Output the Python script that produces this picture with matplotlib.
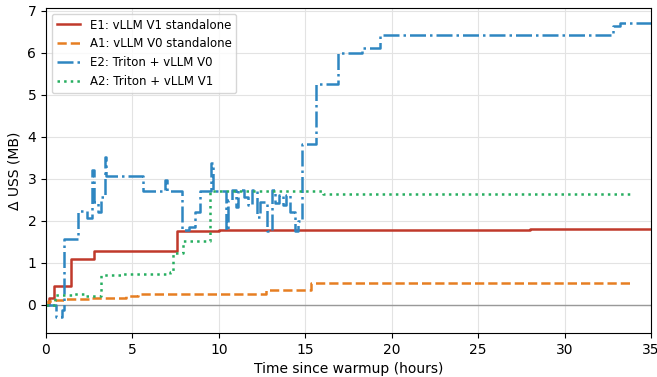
import matplotlib
matplotlib.use('Agg')
import matplotlib.pyplot as plt

# E1: vLLM V1 standalone
e1_t = [0, 0.2, 0.45, 1.45, 2.75, 7.55, 10, 15, 28, 35]
e1_v = [0, 0.17, 0.44, 1.08, 1.27, 1.76, 1.77, 1.78, 1.80, 1.80]

# A1: vLLM V0 standalone
a1_t = [0, 0.1, 0.5, 1.15, 2.5, 4.6, 5.3, 12.7, 15.3, 33.8]
a1_v = [0, 0.10, 0.12, 0.14, 0.16, 0.21, 0.26, 0.34, 0.53, 0.53]

# E2: Triton + vLLM V0
e2_t = [0, 0.6, 0.9, 1.06, 1.83, 2.4, 2.65, 2.8, 3.0, 3.2, 3.4, 3.5, 5.6, 6.9, 7.0,
        7.85, 8.3, 8.6, 8.9, 9.55, 9.65, 10.4, 10.5, 10.75, 11.0, 11.1, 11.45, 11.7,
        11.9, 12.2, 12.35, 12.5, 12.8, 13.05, 13.25, 13.45, 13.7, 13.9, 14.1, 14.4,
        14.55, 14.8, 15.6, 16.9, 18.3, 19.3, 32.8, 33.2, 35]
e2_v = [0, -0.28, -0.12, 1.57, 2.24, 2.07, 3.21, 2.45, 2.22, 2.57, 3.52, 3.06, 2.72, 2.98, 2.72,
        1.79, 1.86, 2.20, 2.72, 3.38, 2.72, 1.79, 2.50, 2.73, 2.33, 2.73, 2.57, 2.38,
        2.73, 2.10, 2.45, 2.45, 1.76, 2.73, 2.42, 2.61, 2.37, 2.61, 2.20, 1.76,
        2.00, 3.83, 5.26, 5.99, 6.11, 6.42, 6.65, 6.71, 6.71]

# A2: Triton + vLLM V1
a2_t = [0, 0.55, 1.5, 2.3, 3.2, 4.4, 7.2, 7.35, 7.9, 9.5, 15.2, 16.0, 25, 33.8]
a2_v = [0, 0.24, 0.26, 0.21, 0.71, 0.74, 0.79, 1.23, 1.52, 2.70, 2.70, 2.63, 2.64, 2.67]

assert len(e2_t) == len(e2_v)

fig, ax = plt.subplots(figsize=(6.57, 3.77), dpi=100)
fig.subplots_adjust(left=0.070, right=0.991, top=0.979, bottom=0.117)

ax.axhline(0, color='#999999', lw=1, zorder=1)

ax.step(e1_t, e1_v, where='post', color='#c0392b', lw=1.8, ls='-', label='E1: vLLM V1 standalone')
ax.step(a1_t, a1_v, where='post', color='#e67e22', lw=1.8, ls='--', label='A1: vLLM V0 standalone')
ax.step(e2_t, e2_v, where='post', color='#2e86c1', lw=1.8, ls='-.', label='E2: Triton + vLLM V0')
ax.step(a2_t, a2_v, where='post', color='#27ae60', lw=1.8, ls=':', label='A2: Triton + vLLM V1')

ax.set_xlim(0, 35)
ax.set_ylim(-0.67, 7.07)
ax.set_xticks(range(0, 36, 5))
ax.set_yticks(range(0, 8))
ax.grid(True, color='#e3e3e3', lw=0.8)
ax.set_axisbelow(True)

ax.set_xlabel('Time since warmup (hours)')
ax.set_ylabel('Δ USS (MB)')
ax.legend(loc='upper left', fontsize=8.5)

fig.savefig('out.png', dpi=100)
